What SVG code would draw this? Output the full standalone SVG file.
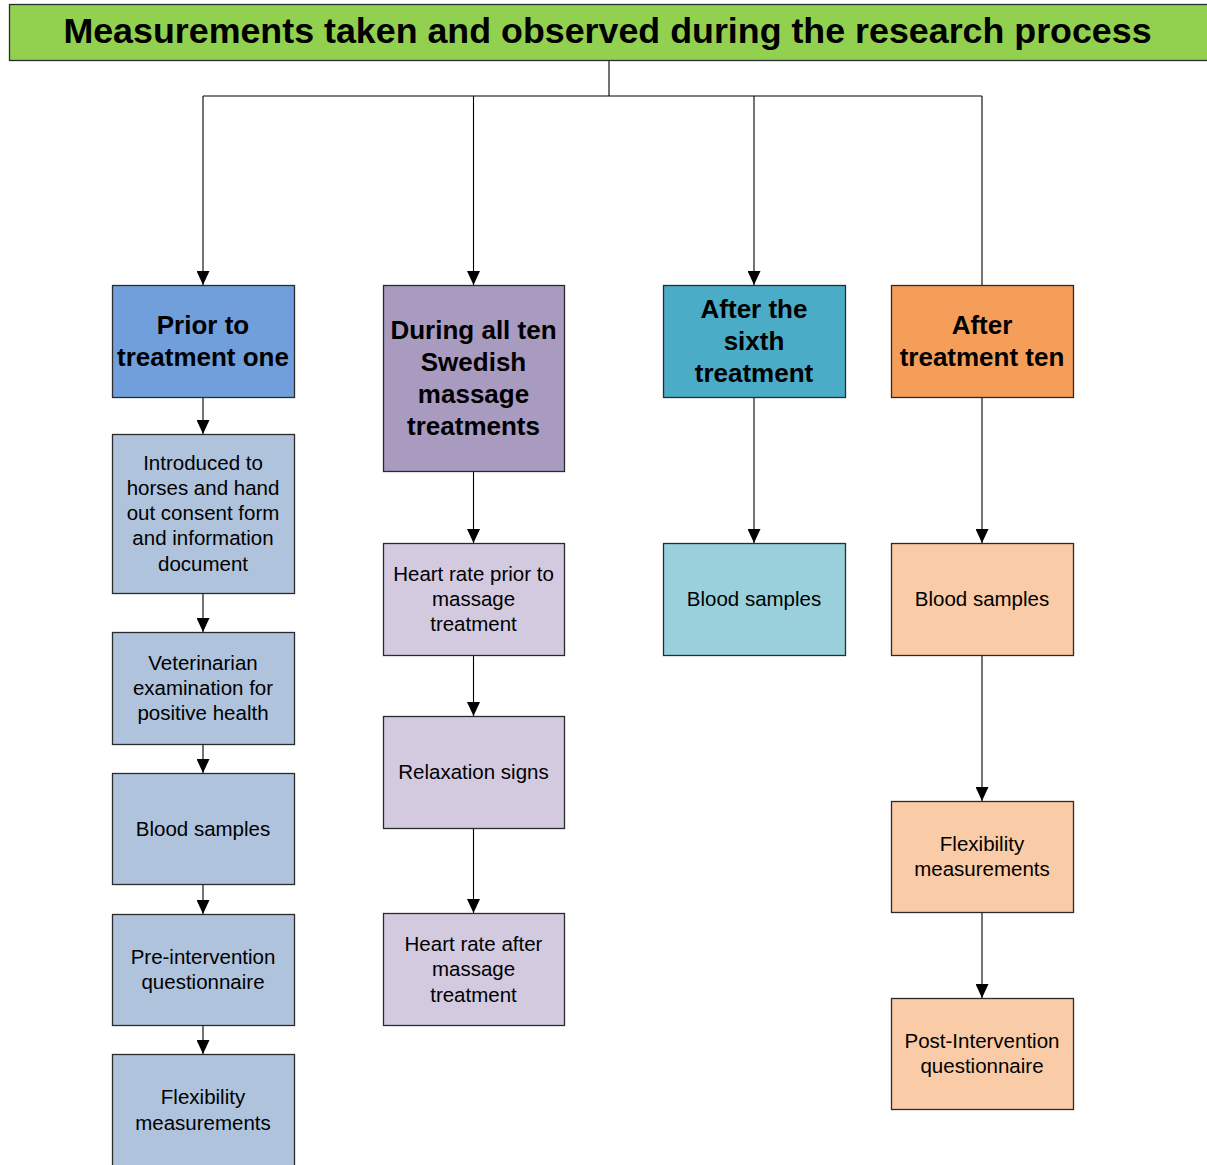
<svg xmlns="http://www.w3.org/2000/svg" width="1207" height="1165" viewBox="0 0 1207 1165">
<defs>
<marker id="arr" markerUnits="userSpaceOnUse" markerWidth="14" markerHeight="13" refX="14" refY="6.5" orient="auto">
<path d="M0,0 L14,6.5 L0,13 z" fill="#000"/>
</marker>
<style>
.box{stroke:#2b2b2b;stroke-width:1.3}
.t{font-family:"Liberation Sans",Arial,sans-serif;text-anchor:middle;fill:#000}
.h{font-size:26px;font-weight:bold}
.c{font-size:20.5px}
.ln{fill:none;stroke:#000;stroke-width:1.1}
.a{marker-end:url(#arr)}
.c1h{fill:#709fdb}.c1{fill:#afc3dd}
.c2h{fill:#a99ac0}.c2{fill:#d3cae0}
.c3h{fill:#4aacc6}.c3{fill:#99d0dc}
.c4h{fill:#f59e59}.c4{fill:#f9cba6}
</style>
</defs>
<rect width="1207" height="1165" fill="#fff"/>

<g id="connectors">
<path class="ln" d="M609,61 V96 M203,96 H982"/>
<line class="ln a" x1="203" y1="96" x2="203" y2="285"/>
<line class="ln a" x1="473.5" y1="96" x2="473.5" y2="285"/>
<line class="ln a" x1="754" y1="96" x2="754" y2="285"/>
<line class="ln" x1="982" y1="96" x2="982" y2="285"/>
<line class="ln a" x1="203" y1="398" x2="203" y2="434"/>
<line class="ln a" x1="203" y1="594" x2="203" y2="632"/>
<line class="ln a" x1="203" y1="745" x2="203" y2="773"/>
<line class="ln a" x1="203" y1="885" x2="203" y2="914"/>
<line class="ln a" x1="203" y1="1026" x2="203" y2="1054"/>
<line class="ln a" x1="473.5" y1="472" x2="473.5" y2="543"/>
<line class="ln a" x1="473.5" y1="656" x2="473.5" y2="716"/>
<line class="ln a" x1="473.5" y1="829" x2="473.5" y2="913"/>
<line class="ln a" x1="754" y1="398" x2="754" y2="543"/>
<line class="ln a" x1="982" y1="398" x2="982" y2="543"/>
<line class="ln a" x1="982" y1="656" x2="982" y2="801"/>
<line class="ln a" x1="982" y1="913" x2="982" y2="998"/>
</g>

<g id="title">
<rect x="9.5" y="4.5" width="1210" height="56" fill="#92d050" stroke="#2b2b2b" stroke-width="1.3"/>
<text class="t" x="607.5" y="43" style="font-size:35.8px;font-weight:bold">Measurements taken and observed during the research process</text>
</g>

<g id="prior">
<rect class="box c1h" x="112.5" y="285.5" width="182" height="112"/>
<text class="t h" x="203" y="334">Prior to</text>
<text class="t h" x="203" y="366">treatment one</text>
</g>
<g id="introduced">
<rect class="box c1" x="112.5" y="434.5" width="182" height="159"/>
<text class="t c" x="203" y="470">Introduced to</text>
<text class="t c" x="203" y="495">horses and hand</text>
<text class="t c" x="203" y="520">out consent form</text>
<text class="t c" x="203" y="545">and information</text>
<text class="t c" x="203" y="571">document</text>
</g>
<g id="vet">
<rect class="box c1" x="112.5" y="632.5" width="182" height="112"/>
<text class="t c" x="203" y="670">Veterinarian</text>
<text class="t c" x="203" y="695">examination for</text>
<text class="t c" x="203" y="720">positive health</text>
</g>
<g id="blood1">
<rect class="box c1" x="112.5" y="773.5" width="182" height="111"/>
<text class="t c" x="203" y="836">Blood samples</text>
</g>
<g id="preq">
<rect class="box c1" x="112.5" y="914.5" width="182" height="111"/>
<text class="t c" x="203" y="964">Pre-intervention</text>
<text class="t c" x="203" y="989">questionnaire</text>
</g>
<g id="flex1">
<rect class="box c1" x="112.5" y="1054.5" width="182" height="130"/>
<text class="t c" x="203" y="1104">Flexibility</text>
<text class="t c" x="203" y="1130">measurements</text>
</g>

<g id="during">
<rect class="box c2h" x="383.5" y="285.5" width="181" height="186"/>
<text class="t h" x="473.5" y="339">During all ten</text>
<text class="t h" x="473.5" y="371">Swedish</text>
<text class="t h" x="473.5" y="403">massage</text>
<text class="t h" x="473.5" y="435">treatments</text>
</g>
<g id="hrprior">
<rect class="box c2" x="383.5" y="543.5" width="181" height="112"/>
<text class="t c" x="473.5" y="581">Heart rate prior to</text>
<text class="t c" x="473.5" y="606">massage</text>
<text class="t c" x="473.5" y="631">treatment</text>
</g>
<g id="relax">
<rect class="box c2" x="383.5" y="716.5" width="181" height="112"/>
<text class="t c" x="473.5" y="779">Relaxation signs</text>
</g>
<g id="hrafter">
<rect class="box c2" x="383.5" y="913.5" width="181" height="112"/>
<text class="t c" x="473.5" y="951">Heart rate after</text>
<text class="t c" x="473.5" y="976">massage</text>
<text class="t c" x="473.5" y="1002">treatment</text>
</g>

<g id="sixth">
<rect class="box c3h" x="663.5" y="285.5" width="182" height="112"/>
<text class="t h" x="754" y="318">After the</text>
<text class="t h" x="754" y="350">sixth</text>
<text class="t h" x="754" y="382">treatment</text>
</g>
<g id="blood3">
<rect class="box c3" x="663.5" y="543.5" width="182" height="112"/>
<text class="t c" x="754" y="606">Blood samples</text>
</g>

<g id="ten">
<rect class="box c4h" x="891.5" y="285.5" width="182" height="112"/>
<text class="t h" x="982" y="334">After</text>
<text class="t h" x="982" y="366">treatment ten</text>
</g>
<g id="blood4">
<rect class="box c4" x="891.5" y="543.5" width="182" height="112"/>
<text class="t c" x="982" y="606">Blood samples</text>
</g>
<g id="flex4">
<rect class="box c4" x="891.5" y="801.5" width="182" height="111"/>
<text class="t c" x="982" y="851">Flexibility</text>
<text class="t c" x="982" y="876">measurements</text>
</g>
<g id="postq">
<rect class="box c4" x="891.5" y="998.5" width="182" height="111"/>
<text class="t c" x="982" y="1048">Post-Intervention</text>
<text class="t c" x="982" y="1073">questionnaire</text>
</g>
</svg>
